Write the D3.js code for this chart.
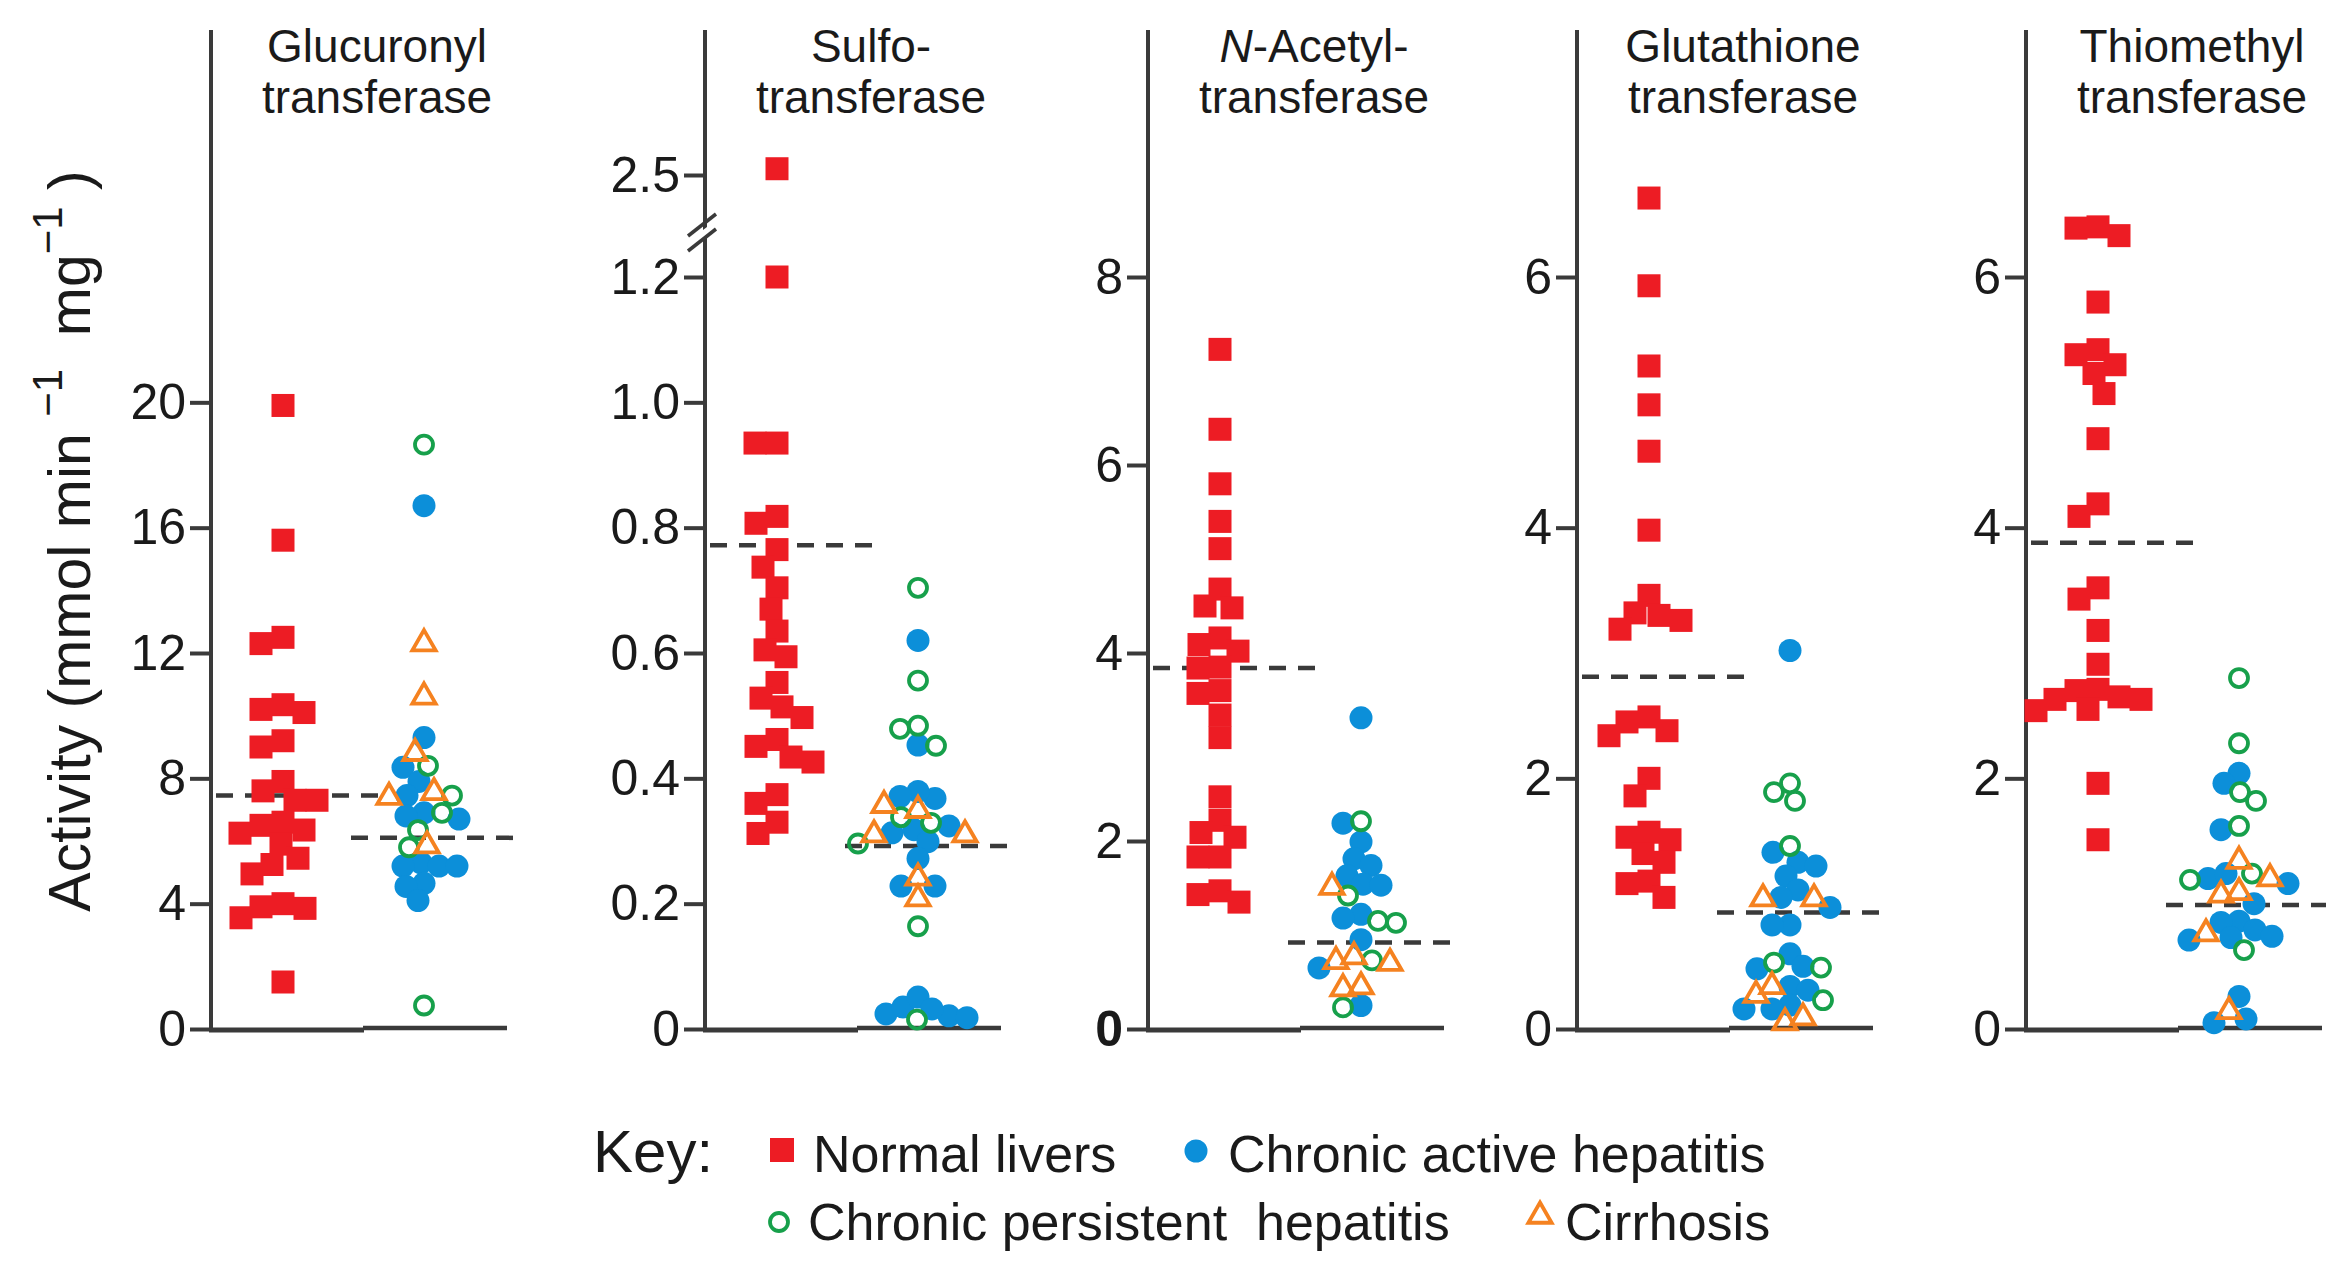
<!DOCTYPE html>
<html><head><meta charset="utf-8">
<script src="https://cdn.jsdelivr.net/npm/d3@7"></script>
<style>
html,body{margin:0;padding:0;background:#fff;}
svg{display:block;font-family:"Liberation Sans",Arial,Helvetica,sans-serif;}
text{white-space:pre;}
</style></head><body>
<svg id="chart" width="2326" height="1264"></svg>
<script>
// ---------------- DATA ----------------
const panelTitles = [
  ["Glucuronyl", "transferase"],
  ["Sulfo-", "transferase"],
  ["N-Acetyl-", "transferase"],
  ["Glutathione", "transferase"],
  ["Thiomethyl", "transferase"]
];
const tickValues = [
  [0, 4, 8, 12, 16, 20],
  [0, 0.2, 0.4, 0.6, 0.8, 1.0, 1.2],
  [0, 2, 4, 6, 8],
  [0, 2, 4, 6],
  [0, 2, 4, 6]
];
const tickLabels = [
  ["0", "4", "8", "12", "16", "20"],
  ["0", "0.2", "0.4", "0.6", "0.8", "1.0", "1.2"],
  ["0", "2", "4", "6", "8"],
  ["0", "2", "4", "6"],
  ["0", "2", "4", "6"]
];
const brokenTickValues = [2.5];      // Sulfotransferase upper segment
const brokenTickLabels = ["2.5"];
const yMax = [24, 1.2, 8, 6, 6];

const normalLivers = [
  [19.9,15.6,12.3,12.5,10.1,10.35,10.2,9.2,9.0,7.9,7.3,7.6,7.3,6.5,6.6,6.35,6.25,5.9,5.45,4.95,5.25,4.0,3.55,3.9,3.85,1.5],
  [2.51,1.2,0.935,0.935,0.818,0.807,0.765,0.737,0.704,0.67,0.635,0.605,0.594,0.553,0.528,0.514,0.497,0.462,0.451,0.434,0.426,0.374,0.36,0.33,0.312],
  [7.23,6.38,5.8,5.4,5.11,4.68,4.48,4.5,4.16,4.09,4.02,3.85,3.84,3.57,3.6,3.34,3.1,2.47,2.22,2.04,2.09,1.83,1.83,1.47,1.43,1.35],
  [6.63,5.93,5.29,4.98,4.61,3.98,3.46,3.32,3.30,3.19,3.26,2.45,2.49,2.38,2.34,2.0,1.86,1.57,1.53,1.51,1.40,1.33,1.18,1.16,1.05],
  [6.33,6.40,6.39,5.80,5.38,5.42,5.30,5.23,5.07,4.71,4.19,4.09,3.52,3.43,3.18,2.91,2.70,2.71,2.63,2.54,2.55,2.65,2.63,1.96,1.51]
];
const chronicActive = [
  [16.7,9.3,8.35,7.9,7.45,6.9,6.8,6.7,5.3,5.2,5.2,5.2,4.65,4.55,4.1],
  [0.62,0.453,0.368,0.379,0.371,0.324,0.313,0.318,0.299,0.272,0.228,0.228,0.024,0.021,0.035,0.051,0.032,0.018],
  [3.31,2.19,1.99,1.81,1.74,1.63,1.54,1.53,1.22,1.18,0.95,0.65,0.25],
  [3.02,1.41,1.33,1.30,1.22,1.11,1.05,0.97,0.83,0.83,0.60,0.48,0.50,0.34,0.31,0.19,0.16,0.16],
  [2.04,1.96,1.59,1.20,1.24,1.16,1.0,0.86,0.85,0.79,0.74,0.71,0.73,0.26,0.08,0.05]
];
const chronicPersistent = [
  [18.65,8.4,7.45,6.35,6.9,5.8,0.75],
  [0.704,0.556,0.484,0.479,0.452,0.338,0.329,0.296,0.164,0.015],
  [2.21,1.42,1.13,1.15,0.73,0.23],
  [1.89,1.96,1.82,1.46,0.49,0.53,0.23],
  [2.80,2.28,1.89,1.82,1.62,1.24,1.19,0.63]
];
const cirrhosis = [
  [12.3,10.6,8.8,7.4,7.55,5.85],
  [0.349,0.357,0.31,0.31,0.241,0.208],
  [1.51,0.72,0.77,0.70,0.45,0.43],
  [1.04,1.04,0.34,0.27,0.09,0.05],
  [1.34,1.20,1.09,1.07,0.76,0.14]
];
const normalMean = [7.45, 0.772, 3.84, 2.81, 3.88];
const hepatitisMean = [6.1, 0.292, 0.92, 0.93, 0.99];

const legendRow1 = ["Normal livers", "Chronic active hepatitis"];
const legendRow2 = ["Chronic persistent  hepatitis", "Cirrhosis"];

// ---------------- STYLE / LAYOUT ----------------
const C = {red:"#ED1C24", blue:"#0C8FD9", green:"#17A04B", orange:"#F58220", axis:"#3a3a3a", text:"#1a1a1a"};
const axisX = [211, 705, 1148, 1577, 2026];
const yBottom = 1029, yTopTick = 277, axisTop = 30;

const svg = d3.select("#chart");

function drawSquare(g, x, y, s) {
  g.append("rect").attr("x", x - s/2).attr("y", y - s/2).attr("width", s).attr("height", s).attr("fill", C.red);
}
function drawDot(g, x, y, r) {
  g.append("circle").attr("cx", x).attr("cy", y).attr("r", r).attr("fill", C.blue);
}
function drawRing(g, x, y, r) {
  g.append("circle").attr("cx", x).attr("cy", y).attr("r", r).attr("fill", "none")
    .attr("stroke", C.green).attr("stroke-width", 3.8);
}
const triPath = d3.symbol(d3.symbolTriangle, 235)();
function drawTri(g, x, y) {
  g.append("path").attr("d", triPath).attr("transform", `translate(${x},${y})`)
    .attr("fill", "none").attr("stroke", C.orange).attr("stroke-width", 3.8).attr("stroke-linejoin", "miter");
}

// deterministic beeswarm: x offsets so markers don't pile up
function swarm(items, minDist) {
  const placed = [];
  items.slice().sort((a, b) => a.y - b.y).forEach(it => {
    for (let k = 0; k < 600; k++) {
      const dx = (k % 2 === 0 ? 1 : -1) * Math.ceil(k / 2);
      if (placed.every(p => Math.hypot(p.dx - dx, p.y - it.y) >= minDist)) { it.dx = dx; break; }
    }
    placed.push(it);
  });
}

panelTitles.forEach((title, i) => {
  const ax = axisX[i];
  const g = svg.append("g");
  const y = d3.scaleLinear().domain([0, yMax[i]]).range([yBottom, yTopTick]);
  const yUpper = d3.scaleLinear().domain([2.5, 2.6]).range([175, 112.3]);
  const yFn = v => (i === 1 && v > 2) ? yUpper(v) : y(v);

  // title
  const t = g.append("text").attr("text-anchor", "middle").attr("font-size", 46).attr("fill", C.text);
  if (title[0].startsWith("N-")) {
    const l1 = t.append("tspan").attr("x", ax + 166).attr("y", 62);
    l1.append("tspan").attr("font-style", "italic").text("N");
    l1.append("tspan").text(title[0].slice(1));
  } else {
    t.append("tspan").attr("x", ax + 166).attr("y", 62).text(title[0]);
  }
  t.append("tspan").attr("x", ax + 166).attr("y", 113).text(title[1]);

  // dashed mean lines (behind markers)
  g.append("line").attr("x1", ax + 5).attr("x2", ax + 168)
    .attr("y1", yFn(normalMean[i])).attr("y2", yFn(normalMean[i]))
    .attr("stroke", C.axis).attr("stroke-width", 4.5).attr("stroke-dasharray", "17,12");
  g.append("line").attr("x1", ax + 140).attr("x2", ax + 305)
    .attr("y1", yFn(hepatitisMean[i])).attr("y2", yFn(hepatitisMean[i]))
    .attr("stroke", C.axis).attr("stroke-width", 4.5).attr("stroke-dasharray", "17,12");

  // axis ticks
  const styleAxis = sel => {
    sel.select(".domain").remove();
    sel.selectAll(".tick line").attr("stroke", C.axis).attr("stroke-width", 4);
    sel.selectAll(".tick text").attr("font-size", 50).attr("fill", C.text)
      .attr("font-family", '"Liberation Sans",Arial,sans-serif');
  };
  g.append("g").attr("transform", `translate(${ax},0)`)
    .call(d3.axisLeft(y).tickValues(tickValues[i]).tickFormat((d, j) => tickLabels[i][j]).tickSize(21).tickPadding(4))
    .call(styleAxis);
  if (i === 2) {
    g.selectAll(".tick text").filter(d => d === 0).attr("font-weight", "bold");
  }
  if (i === 1) {
    g.append("g").attr("transform", `translate(${ax},0)`)
      .call(d3.axisLeft(yUpper).tickValues(brokenTickValues).tickFormat((d, j) => brokenTickLabels[j]).tickSize(21).tickPadding(4))
      .call(styleAxis);
  }

  // axis lines
  g.append("line").attr("x1", ax).attr("x2", ax).attr("y1", axisTop).attr("y2", yBottom + 2)
    .attr("stroke", C.axis).attr("stroke-width", 4);
  g.append("line").attr("x1", ax - 2).attr("x2", ax + 153).attr("y1", yBottom + 1).attr("y2", yBottom + 1)
    .attr("stroke", C.axis).attr("stroke-width", 5);
  g.append("line").attr("x1", ax + 152).attr("x2", ax + 296).attr("y1", yBottom - 1).attr("y2", yBottom - 1)
    .attr("stroke", C.axis).attr("stroke-width", 4.5);
  if (i === 1) {
    g.append("polygon").attr("points", `${ax-6},${233} ${ax+6},${224} ${ax+6},${234} ${ax-6},${243}`).attr("fill", "#fff");
    g.append("line").attr("x1", ax - 17).attr("y1", 236).attr("x2", ax + 11).attr("y2", 214)
      .attr("stroke", C.axis).attr("stroke-width", 3.5);
    g.append("line").attr("x1", ax - 17).attr("y1", 251).attr("x2", ax + 11).attr("y2", 229)
      .attr("stroke", C.axis).attr("stroke-width", 3.5);
  }

  // normal livers
  const nItems = normalLivers[i].map(v => ({v, y: yFn(v)}));
  swarm(nItems, 22);
  const cxN = ax + 72;
  nItems.forEach(d => drawSquare(g, cxN + d.dx, d.y, 23));

  // hepatitis / cirrhosis group
  const hItems = [].concat(
    chronicActive[i].map(v => ({v, s: "cah", y: yFn(v)})),
    chronicPersistent[i].map(v => ({v, s: "cph", y: yFn(v)})),
    cirrhosis[i].map(v => ({v, s: "cir", y: yFn(v)}))
  );
  swarm(hItems, 18);
  const cxH = ax + 213;
  hItems.filter(d => d.s === "cah").forEach(d => drawDot(g, cxH + d.dx, d.y, 11.5));
  hItems.filter(d => d.s === "cph").forEach(d => drawRing(g, cxH + d.dx, d.y, 9));
  hItems.filter(d => d.s === "cir").forEach(d => drawTri(g, cxH + d.dx, d.y));
});

// y-axis title
const yt = svg.append("text").attr("transform", "translate(90,541) rotate(-90)")
  .attr("text-anchor", "middle").attr("font-size", 59).attr("fill", C.text);
yt.append("tspan").text("Activity (mmol min ");
yt.append("tspan").attr("font-size", 42).attr("dy", -28).text("\u22121");
yt.append("tspan").attr("dy", 28).text("  mg");
yt.append("tspan").attr("font-size", 42).attr("dy", -28).text("\u22121");
yt.append("tspan").attr("dy", 28).text(" )");

// legend
const lg = svg.append("g").attr("fill", C.text);
lg.append("text").attr("x", 593).attr("y", 1172).attr("font-size", 60).text("Key:");
drawSquare(lg, 782, 1150, 24);
lg.append("text").attr("x", 813).attr("y", 1172).attr("font-size", 52).text(legendRow1[0]);
drawDot(lg, 1196, 1151, 11.5);
lg.append("text").attr("x", 1228).attr("y", 1172).attr("font-size", 52).text(legendRow1[1]);
drawRing(lg, 779, 1222, 9);
lg.append("text").attr("x", 808).attr("y", 1240).attr("font-size", 52).text(legendRow2[0]);
drawTri(lg, 1540, 1216);
lg.append("text").attr("x", 1565).attr("y", 1240).attr("font-size", 52).text(legendRow2[1]);
</script>
</body></html>
